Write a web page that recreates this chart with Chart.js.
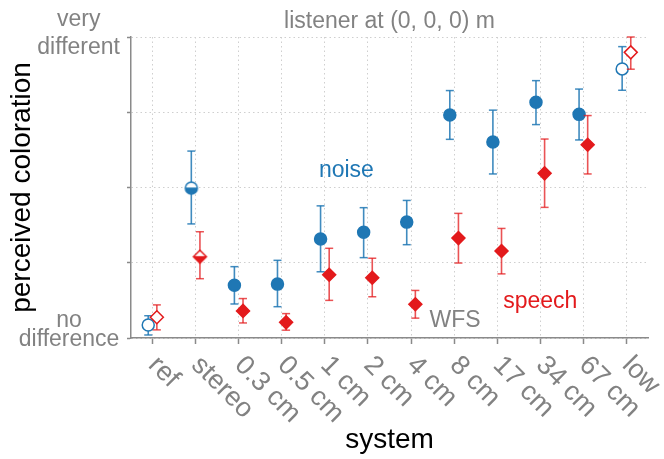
<!DOCTYPE html>
<html>
<head>
<meta charset="utf-8">
<script src="https://cdn.jsdelivr.net/npm/chart.js@4"></script>
<style>
  html, body { margin: 0; padding: 0; background: #fff; }
  #wrap { width: 664px; height: 459px; }
</style>
</head>
<body>
<div id="wrap"><canvas id="chart" width="664" height="459"></canvas></div>
<script>
// systems on the x axis
const categories = ['ref', 'stereo', '0.3 cm', '0.5 cm', '1 cm', '2 cm', '4 cm', '8 cm', '17 cm', '34 cm', '67 cm', 'low'];

// noise: mean and confidence interval
const noiseMean = [0.043, 0.498, 0.175, 0.179, 0.329, 0.351, 0.385, 0.741, 0.651, 0.783, 0.743, 0.894];
const noiseLow  = [0.010, 0.379, 0.113, 0.104, 0.220, 0.267, 0.310, 0.660, 0.545, 0.709, 0.658, 0.823];
const noiseHigh = [0.074, 0.621, 0.237, 0.258, 0.439, 0.433, 0.457, 0.822, 0.757, 0.855, 0.827, 0.968];

// speech: mean and confidence interval
const speechMean = [0.069, 0.270, 0.090, 0.052, 0.210, 0.200, 0.112, 0.332, 0.289, 0.547, 0.642, 0.949];
const speechLow  = [0.027, 0.197, 0.050, 0.026, 0.125, 0.137, 0.066, 0.249, 0.213, 0.434, 0.545, 0.893];
const speechHigh = [0.110, 0.353, 0.131, 0.081, 0.298, 0.265, 0.158, 0.414, 0.364, 0.661, 0.739, 1.000];

// y axis ticks (leading blank line lifts the text above the tick)
const yTickValues = [0, 0.25, 0.5, 0.75, 1];
const yTickLabels = { 0: ['', 'no', 'difference'], 1: ['', '   very', '   different'] };

// marker fill per system: open for the anchors, half for stereo
const markerFill = ['open', 'half', 'full', 'full', 'full', 'full', 'full', 'full', 'full', 'full', 'full', 'open'];

const family = '"Liberation Sans", Arial, sans-serif';
const grey = '#828282';
const axisColor = '#8a8a8a';
const gridColor = '#cfcfcf';
const blue = '#1f77b4';
const red = '#e31a1c';
const blueBar = 'rgba(31,119,180,0.85)';
const redBar = 'rgba(227,26,28,0.75)';
const dodge = 0.1;

function halfMarker(shape, color, r) {
  const size = 2 * r + 4;
  const c = document.createElement('canvas');
  c.width = c.height = size;
  const g = c.getContext('2d');
  const m = size / 2;
  const path = () => {
    g.beginPath();
    if (shape === 'circle') {
      g.arc(m, m, r, 0, Math.PI * 2);
    } else {
      g.moveTo(m - r, m); g.lineTo(m, m - r); g.lineTo(m + r, m); g.lineTo(m, m + r); g.closePath();
    }
  };
  path(); g.fillStyle = '#fff'; g.fill();
  g.save(); g.beginPath(); g.rect(0, m, size, m); g.clip();
  path(); g.fillStyle = color; g.fill(); g.restore();
  g.beginPath(); g.moveTo(m - r, m); g.lineTo(m + r, m); g.strokeStyle = color; g.lineWidth = 1.2; g.stroke();
  path(); g.lineWidth = 1.5; g.strokeStyle = color; g.stroke();
  return c;
}

function series(mean, low, high, shift, color, barColor, shape, radius) {
  const half = halfMarker(shape, color, radius);
  return [
    {
      label: 'points',
      data: mean.map((v, i) => ({ x: i + shift, y: v })),
      pointStyle: markerFill.map(f => f === 'half' ? half : shape),
      pointRadius: radius,
      pointBorderWidth: 1.5,
      pointBorderColor: color,
      pointBackgroundColor: markerFill.map(f => f === 'open' ? '#fff' : color),
      clip: false
    },
    {
      label: 'caps',
      data: mean.flatMap((v, i) => [{ x: i + shift, y: low[i] }, { x: i + shift, y: high[i] }]),
      pointStyle: 'line',
      pointRadius: 4,
      pointBorderWidth: 1.5,
      pointBorderColor: barColor,
      clip: false
    },
    {
      label: 'stems',
      data: mean.flatMap((v, i) => [{ x: i + shift, y: low[i] }, { x: i + shift, y: high[i] }, { x: i + shift, y: null }]),
      showLine: true,
      spanGaps: false,
      pointRadius: 0,
      borderWidth: 1.6,
      borderColor: barColor,
      clip: false
    }
  ];
}

const notes = [
  { text: 'noise', x: 4.5, y: 0.555, color: blue },
  { text: 'speech', x: 9.0, y: 0.12, color: red },
  { text: 'WFS', x: 7.02, y: 0.057, color: grey }
];

const textLayer = {
  id: 'textLayer',
  afterDraw(chart) {
    const { ctx, scales: { x, y } } = chart;
    ctx.save();
    ctx.fillStyle = grey;
    ctx.textAlign = 'left';
    ctx.textBaseline = 'middle';
    ctx.font = '27px ' + family;
    categories.forEach((c, i) => {
      ctx.save();
      ctx.translate(x.getPixelForValue(i), y.bottom + 23);
      ctx.rotate(Math.PI / 4);
      ctx.fillText(c, 0, 0);
      ctx.restore();
    });
    ctx.font = '23px ' + family;
    ctx.textAlign = 'center';
    notes.forEach(n => {
      ctx.fillStyle = n.color;
      ctx.fillText(n.text, x.getPixelForValue(n.x), y.getPixelForValue(n.y));
    });
    ctx.restore();
  }
};

new Chart(document.getElementById('chart'), {
  type: 'scatter',
  data: {
    datasets: [
      ...series(speechMean, speechLow, speechHigh, dodge, red, redBar, 'rectRot', 6.5),
      ...series(noiseMean, noiseLow, noiseHigh, -dodge, blue, blueBar, 'circle', 6)
    ]
  },
  options: {
    responsive: false,
    animation: false,
    layout: { padding: { left: 0, right: 16, top: 0, bottom: 0 } },
    plugins: {
      legend: { display: false },
      tooltip: { enabled: false },
      title: {
        display: true,
        fullSize: false,
        text: 'listener at (0, 0, 0) m',
        color: grey,
        font: { family, size: 23, weight: 'normal' },
        padding: { top: 8, bottom: 1.4 }
      }
    },
    scales: {
      x: {
        type: 'linear',
        min: -0.5,
        max: 11.5,
        afterBuildTicks: s => { s.ticks = categories.map((c, i) => ({ value: i })); },
        afterFit: s => { s.height = 121; },
        ticks: { display: false, autoSkip: false },
        grid: { color: gridColor, lineWidth: 1, tickColor: axisColor, tickLength: 6, tickWidth: 1.5, tickBorderDash: [] },
        border: { color: axisColor, width: 1.5, dash: [1.5, 3] },
        title: { display: true, text: 'system', color: '#000', font: { family, size: 28 }, padding: { top: 0, bottom: 2 } }
      },
      y: {
        min: 0,
        max: 1,
        afterBuildTicks: s => { s.ticks = yTickValues.map(v => ({ value: v })); },
        afterFit: s => { s.width = 131; s.paddingTop = 0; s.paddingBottom = 0; },
        ticks: {
          autoSkip: false,
          callback: v => yTickLabels[v] || '',
          color: grey,
          font: ctx => ({ family, size: 23, lineHeight: ctx.tick && ctx.tick.value === 1 ? 1.22 : 0.8 }),
          padding: 7,
          crossAlign: 'center',
          labelOffset: -17
        },
        grid: { color: gridColor, lineWidth: 1, tickColor: axisColor, tickLength: 4, tickWidth: 1.5, tickBorderDash: [] },
        border: { color: axisColor, width: 1.5, dash: [1.5, 3] },
        title: { display: true, text: 'perceived coloration', color: '#000', font: { family, size: 28 }, padding: { top: 5, bottom: 0 } }
      }
    }
  },
  plugins: [textLayer]
});
</script>
</body>
</html>
